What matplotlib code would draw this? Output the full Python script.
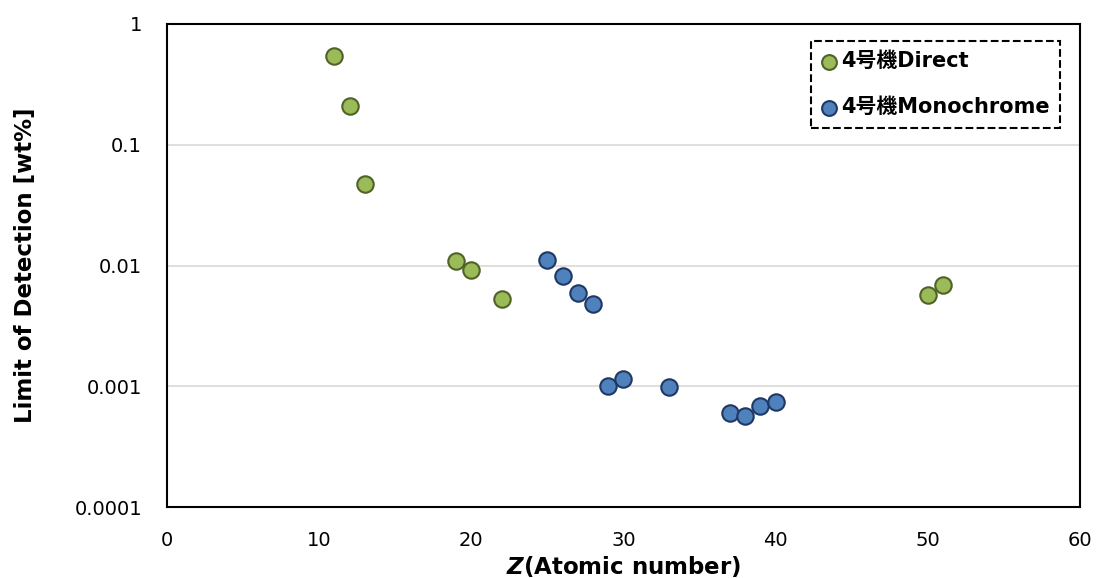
import matplotlib.pyplot as plt

plt.rcParams['font.family'] = ['DejaVu Sans', 'Noto Sans CJK JP']
plt.rcParams['mathtext.fontset'] = 'custom'
plt.rcParams['mathtext.it'] = 'DejaVu Sans:italic:bold'

z_direct = [11, 12, 13, 19, 20, 22, 50, 51]
lod_direct = [0.54, 0.21, 0.047, 0.0109, 0.0092, 0.0053, 0.0057, 0.0069]

z_mono = [25, 26, 27, 28, 29, 30, 33, 37, 38, 39, 40]
lod_mono = [0.0111, 0.0082, 0.0059, 0.0048, 0.0010, 0.00115, 0.00099,
            0.0006, 0.00057, 0.00069, 0.00074]

y_ticks = [0.0001, 0.001, 0.01, 0.1, 1]
y_labels = ['0.0001', '0.001', '0.01', '0.1', '1']

fig = plt.figure(figsize=(10.97, 5.78), dpi=100)
ax = fig.add_axes([0.1522, 0.1228, 0.8323, 0.8357])

ax.scatter(z_direct, lod_direct, s=140, color='#9BBB59', edgecolor='#4F6228',
           linewidth=1.5, label='4号機Direct', zorder=3)
ax.scatter(z_mono, lod_mono, s=140, color='#4F81BD', edgecolor='#1F3864',
           linewidth=1.5, label='4号機Monochrome', zorder=3)

ax.set_yscale('log')
ax.set_ylim(0.0001, 1)
ax.set_xlim(0, 60)
ax.set_yticks(y_ticks)
ax.set_yticklabels(y_labels)
ax.minorticks_off()
ax.set_xticks(range(0, 61, 10))
ax.tick_params(axis='y', length=0, labelsize=14, pad=18)
ax.tick_params(axis='x', length=0, labelsize=14, pad=17)
ax.grid(axis='y', color='#D9D9D9', linewidth=1.2)
for sp in ax.spines.values():
    sp.set_linewidth(1.5)

ax.set_ylabel('Limit of Detection [wt%]', fontsize=16.5, fontweight='bold')
ax.yaxis.set_label_coords(-0.155, 0.5)
ax.yaxis.label.set_va('center')
ax.set_xlabel(r'$Z$(Atomic number)', fontsize=16.5, fontweight='bold')
ax.xaxis.set_label_coords(0.5, -0.124)
ax.xaxis.label.set_va('center')

leg = ax.legend(loc='upper right', bbox_to_anchor=(0.978, 0.965),
                borderaxespad=0, prop={'weight': 'bold', 'size': 15},
                fancybox=False, framealpha=1, edgecolor='black',
                handlelength=0.72, handletextpad=0.2, labelspacing=1.25,
                borderpad=0.5, markerscale=0.9)
leg.get_frame().set_linestyle('--')
leg.get_frame().set_linewidth(1.5)

fig.savefig('out.png', dpi=100)
